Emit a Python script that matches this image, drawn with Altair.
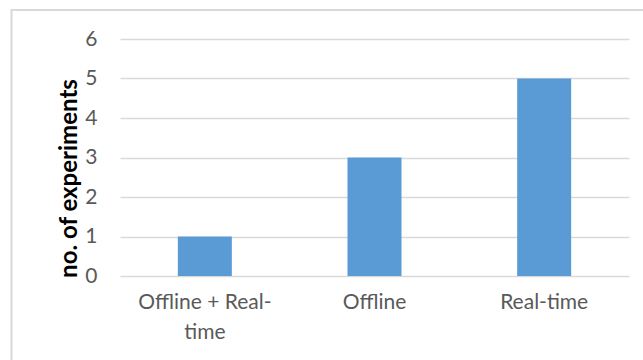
import altair as alt
import pandas as pd

categories = ["Offline + Real-time", "Offline", "Real-time"]
counts = [1, 3, 5]
y_ticks = [0, 1, 2, 3, 4, 5, 6]

df = pd.DataFrame({"category": categories, "count": counts})

FONT = "Lato"
GRAY_TEXT = "#595959"
GRID = "#d9d9d9"

bars = alt.Chart(df).mark_bar(size=54, color="#5b9bd5").encode(
    x=alt.X(
        "category:N",
        sort=categories,
        scale=alt.Scale(paddingInner=0, paddingOuter=0),
        axis=alt.Axis(
            title=None,
            labelAngle=0,
            domain=False,
            ticks=False,
            grid=False,
            labelFont=FONT,
            labelFontSize=21,
            labelColor=GRAY_TEXT,
            labelPadding=15,
            labelLineHeight=30,
            labelExpr="datum.value == 'Offline + Real-time' ? ['Offline + Real-', 'time'] : datum.label",
        ),
    ),
    y=alt.Y(
        "count:Q",
        scale=alt.Scale(domain=[0, 6], nice=False),
        axis=alt.Axis(
            title="no. of experiments",
            values=y_ticks,
            domain=False,
            ticks=False,
            grid=True,
            gridColor=GRID,
            gridWidth=1.5,
            labelFont=FONT,
            labelFontSize=21,
            labelColor=GRAY_TEXT,
            labelPadding=23,
            titleFont=FONT,
            titleFontSize=24,
            titleFontWeight="bold",
            titleColor="#000000",
            titleAngle=-90,
            titleAlign="center",
            titleBaseline="alphabetic",
            titleX=-44,
            titleY=139,
        ),
    ),
)

border = alt.Chart(df).mark_rect(
    fill=None, stroke=GRID, strokeWidth=1.5, clip=False
).encode(
    x=alt.value(-108.5),
    x2=alt.value(700),
    y=alt.value(-29),
    y2=alt.value(400),
)

chart = (
    alt.layer(border, bars)
    .properties(
        width=509,
        height=237,
        autosize=alt.AutoSizeParams(type="none"),
        padding={"left": 120, "top": 39, "right": 14, "bottom": 84},
        background="white",
    )
    .configure_view(stroke=None)
)

chart.save("out.html", embed_options={"renderer": "svg", "actions": False})
